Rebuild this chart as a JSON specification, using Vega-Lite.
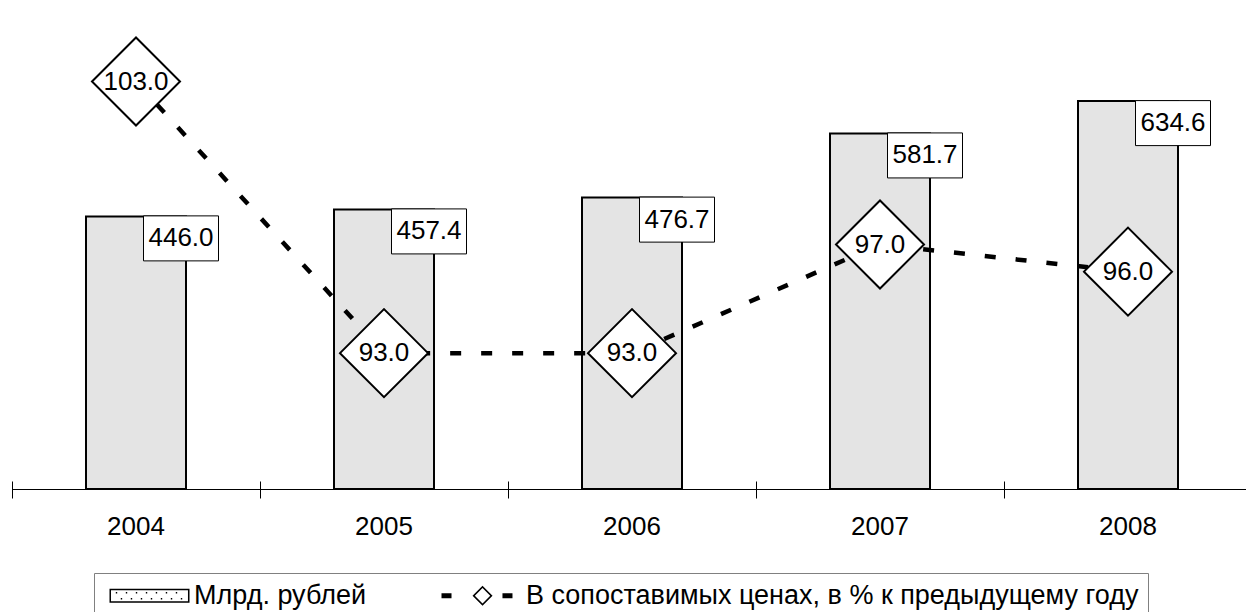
{
  "$schema": "https://vega.github.io/schema/vega-lite/v6.json",
  "width": 1234,
  "height": 489,
  "autosize": {"type": "none"},
  "padding": {"left": 12, "top": 0, "right": 0, "bottom": 123},
  "background": "white",
  "config": {"view": {"stroke": null}, "font": "Liberation Sans"},
  "data": {
    "values": [
      {"year": "2004", "value": 446.0, "pct": 103.0, "series": "Млрд. рублей"},
      {"year": "2005", "value": 457.4, "pct": 93.0, "series": "Млрд. рублей"},
      {"year": "2006", "value": 476.7, "pct": 93.0, "series": "Млрд. рублей"},
      {"year": "2007", "value": 581.7, "pct": 97.0, "series": "Млрд. рублей"},
      {"year": "2008", "value": 634.6, "pct": 96.0, "series": "Млрд. рублей"}
    ]
  },
  "layer": [
    {
      "layer": [
        {
          "mark": {"type": "bar", "width": 100, "fill": "#e4e4e4", "stroke": "black", "strokeWidth": 2},
          "encoding": {
            "x": {
              "field": "year", "type": "ordinal",
              "scale": {"range": [0, 1240], "paddingInner": 0, "paddingOuter": 0},
              "axis": {"orient": "bottom", "title": null, "labelAngle": 0, "labelFont": "Liberation Sans", "labelFontSize": 26, "labelColor": "black", "domainColor": "black", "domainWidth": 1, "ticks": false, "labelPadding": 24, "grid": false}
            },
            "y": {"field": "value", "type": "quantitative", "scale": {"domain": [0, 743.7]}, "axis": null}
          }
        },
        {
          "mark": {"type": "point", "filled": true, "fill": "black", "size": 10, "opacity": 0},
          "encoding": {
            "x": {"field": "year", "type": "ordinal"},
            "y": {"field": "value", "type": "quantitative"},
            "shape": {
              "field": "series", "type": "nominal",
              "scale": {"domain": ["Млрд. рублей", "В сопоставимых ценах, в % к предыдущему году"], "range": ["M-1,-1H10.43V1H-1Z M-0.79,-0.79V0.79H10.21V-0.79Z M-0.1,-0.53h0.2v0.2h-0.2Z M1.33,-0.53h0.2v0.2h-0.2Z M2.76,-0.53h0.2v0.2h-0.2Z M4.19,-0.53h0.2v0.2h-0.2Z M5.61,-0.53h0.2v0.2h-0.2Z M7.04,-0.53h0.2v0.2h-0.2Z M8.47,-0.53h0.2v0.2h-0.2Z M0.61,0.33h0.2v0.2h-0.2Z M2.04,0.33h0.2v0.2h-0.2Z M3.47,0.33h0.2v0.2h-0.2Z M4.9,0.33h0.2v0.2h-0.2Z M6.33,0.33h0.2v0.2h-0.2Z M7.76,0.33h0.2v0.2h-0.2Z M9.19,0.33h0.2v0.2h-0.2Z", "M-1,-0.36H0.43V0.36H-1Z M3.43,0L4.86,-1.43L6.29,0L4.86,1.43Z M3.76,0L4.86,1.1L5.96,0L4.86,-1.1Z M7.71,-0.36H9.14V0.36H7.71Z"]},
              "legend": {
                "orient": "none", "legendX": 82, "legendY": 573, "direction": "horizontal", "columns": 2,
                "title": null, "labelFont": "Liberation Sans", "labelFontSize": 27, "labelColor": "black", "labelLimit": 0,
                "symbolSize": 196, "labelOffset": 64, "columnPadding": 68,
                "symbolOpacity": 1, "symbolFillColor": "black", "symbolStrokeWidth": 0,
                "strokeColor": "#808080", "padding": 9
              }
            }
          }
        },
        {
          "mark": {"type": "point", "shape": "M-1,-0.6L1,-0.6L1,0.6L-1,0.6Z", "size": 5625, "filled": true, "fill": "white", "stroke": "black", "strokeWidth": 1, "opacity": 1, "xOffset": 45, "yOffset": 22},
          "encoding": {
            "x": {"field": "year", "type": "ordinal"},
            "y": {"field": "value", "type": "quantitative"}
          }
        },
        {
          "mark": {"type": "text", "font": "Liberation Sans", "fontSize": 26, "color": "black", "align": "center", "baseline": "middle", "xOffset": 45, "yOffset": 22},
          "encoding": {
            "x": {"field": "year", "type": "ordinal"},
            "y": {"field": "value", "type": "quantitative"},
            "text": {"field": "value", "type": "quantitative", "format": ".1f"}
          }
        }
      ]
    },
    {
      "layer": [
        {
          "mark": {"type": "line", "stroke": "black", "strokeWidth": 4.5, "strokeDash": [11, 20]},
          "encoding": {
            "x": {
              "field": "year", "type": "ordinal",
              "axis": {"orient": "bottom", "title": null, "labels": false, "domain": false, "ticks": true, "tickBand": "extent", "tickSize": 17, "tickColor": "black", "tickWidth": 1, "offset": -8, "grid": false}
            },
            "y": {"field": "pct", "type": "quantitative", "scale": {"domain": [88, 105]}, "axis": null}
          }
        },
        {
          "mark": {"type": "point", "shape": "diamond", "size": 7744, "filled": true, "fill": "white", "stroke": "black", "strokeWidth": 2, "opacity": 1},
          "encoding": {
            "x": {"field": "year", "type": "ordinal"},
            "y": {"field": "pct", "type": "quantitative"}
          }
        },
        {
          "mark": {"type": "text", "font": "Liberation Sans", "fontSize": 26, "color": "black", "align": "center", "baseline": "middle"},
          "encoding": {
            "x": {"field": "year", "type": "ordinal"},
            "y": {"field": "pct", "type": "quantitative"},
            "text": {"field": "pct", "type": "quantitative", "format": ".1f"}
          }
        }
      ]
    }
  ],
  "resolve": {"scale": {"y": "independent"}, "axis": {"x": "independent"}}
}
